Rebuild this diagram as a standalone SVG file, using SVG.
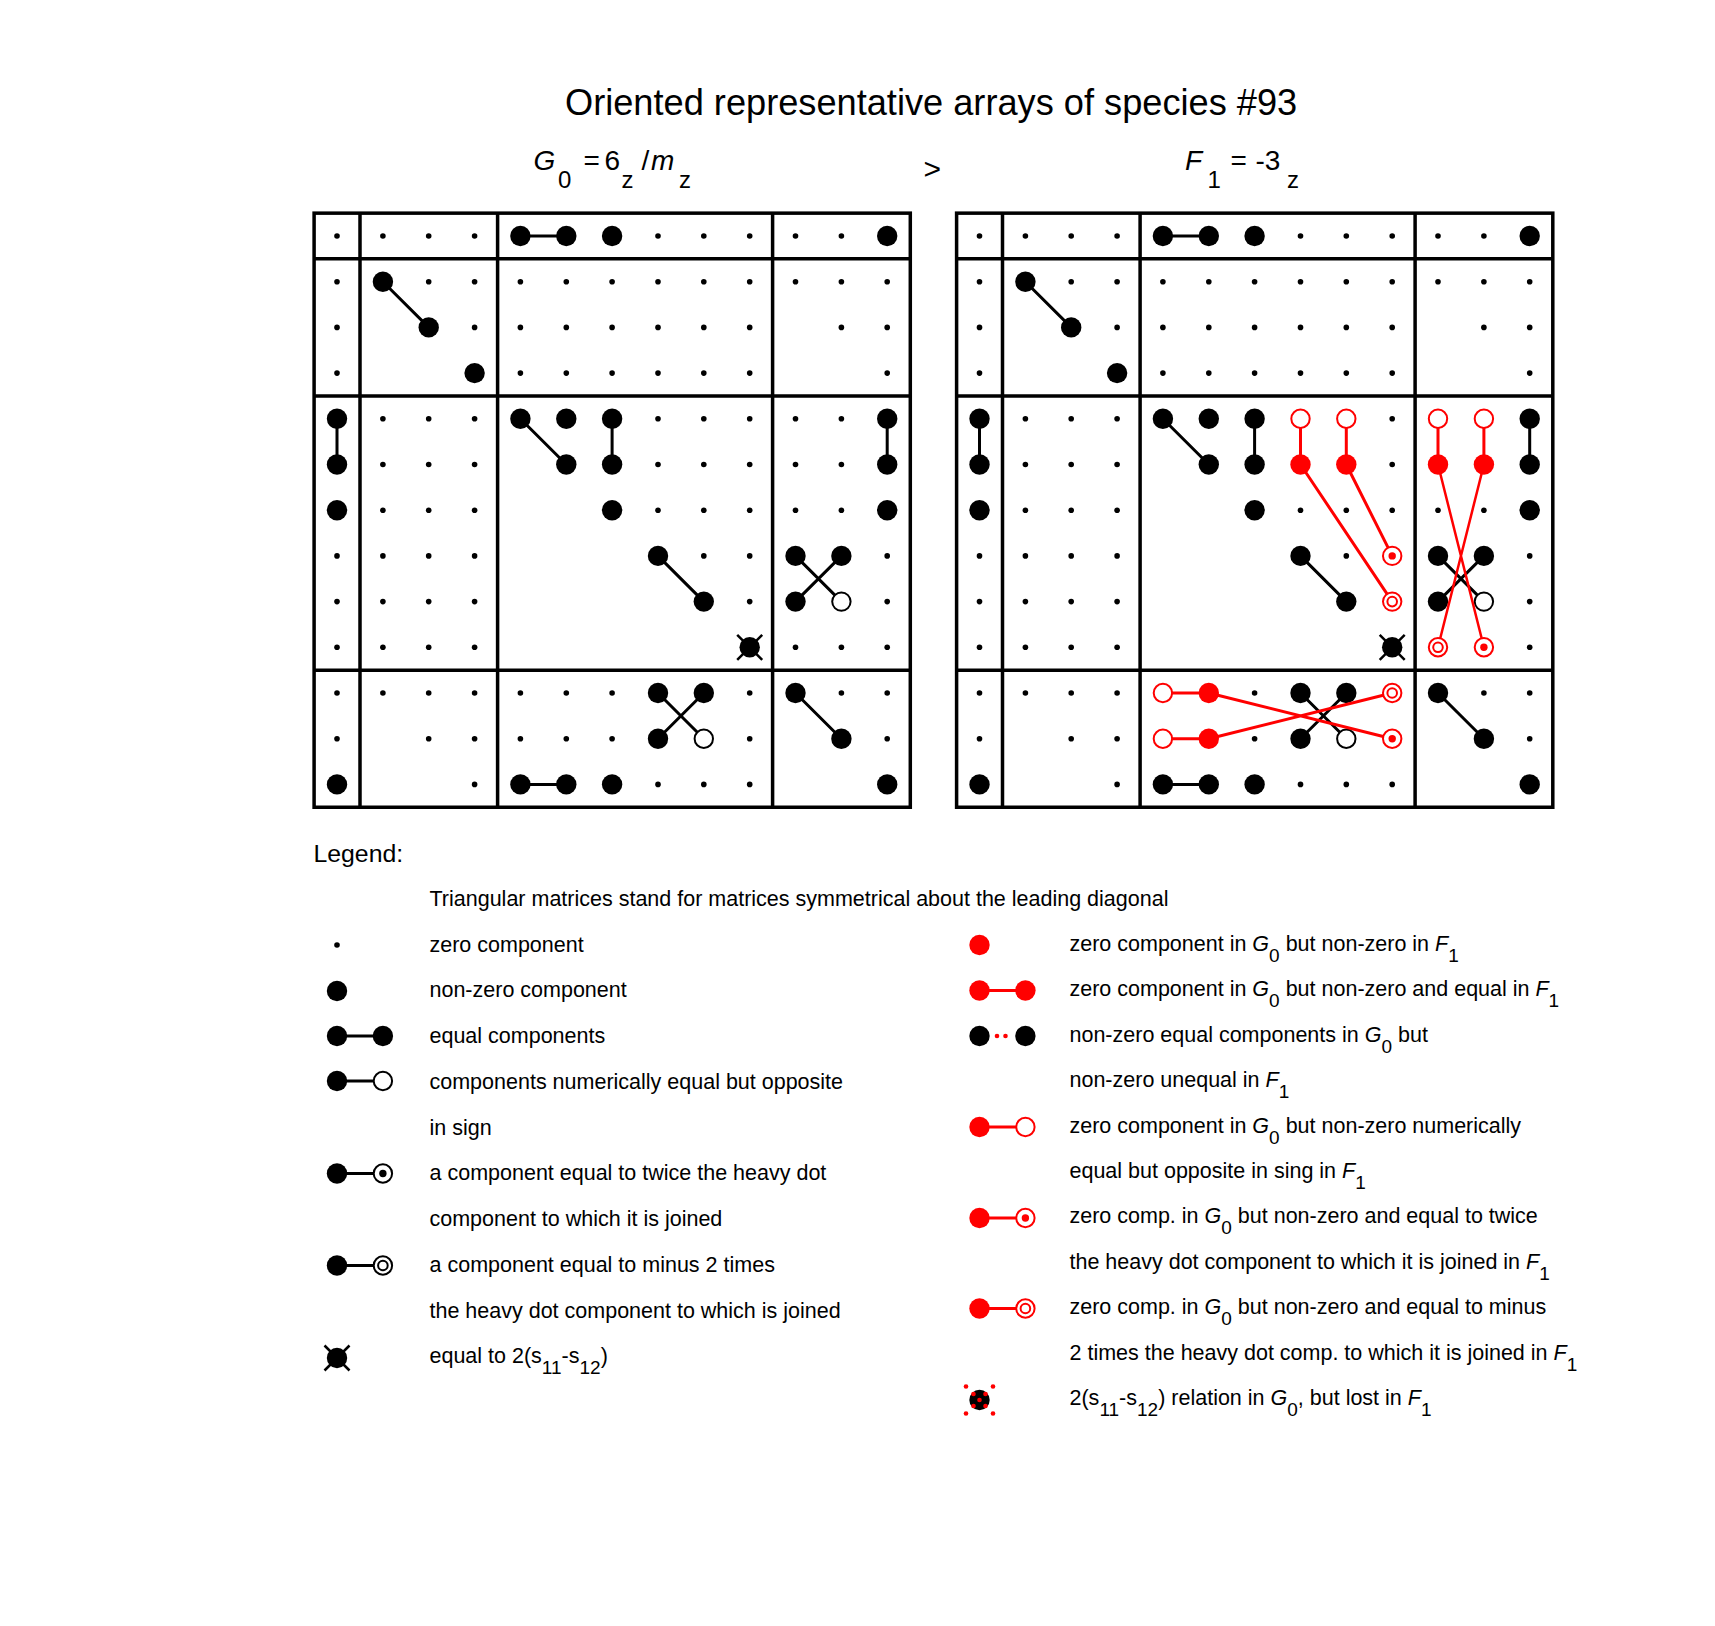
<svg xmlns="http://www.w3.org/2000/svg" xmlns:xlink="http://www.w3.org/1999/xlink" width="1715" height="1626" viewBox="0 0 1715 1626">
<style>
.grid{fill:none;stroke:#000;stroke-width:3.5}
.ln{fill:none;stroke:#000;stroke-width:3}
.rl{fill:none;stroke:#f00;stroke-width:3}
.t{font-family:"Liberation Sans",Arial,Helvetica,sans-serif;fill:#000}
.lg{font-size:21.5px}
.i{font-style:italic}
.sb{font-size:19px}
.rd{fill:#f00}
</style>
<defs>
<circle id="s" r="2.8"/>
<circle id="b" r="10.2"/>
<circle id="o" r="9.2" fill="#fff" stroke="#000" stroke-width="2"/>
<g id="x"><circle r="10.2"/><path d="M-12.5,-12.5L12.5,12.5M12.5,-12.5L-12.5,12.5" stroke="#000" stroke-width="2.5"/></g>
<g id="tw"><circle r="9.2" fill="#fff" stroke="#000" stroke-width="2"/><circle r="3.7"/></g>
<g id="m2"><circle r="9.2" fill="#fff" stroke="#000" stroke-width="2"/><circle r="4.8" fill="none" stroke="#000" stroke-width="2"/></g>
<circle id="rb" r="10.2" fill="#f00"/>
<circle id="ro" r="9.2" fill="#fff" stroke="#f00" stroke-width="2"/>
<g id="rtw"><circle r="9.2" fill="#fff" stroke="#f00" stroke-width="2"/><circle r="3.7" fill="#f00"/></g>
<g id="rm2"><circle r="9.2" fill="#fff" stroke="#f00" stroke-width="2"/><circle r="4.8" fill="none" stroke="#f00" stroke-width="2"/></g>
<g id="arr">
<g class="grid">
<rect x="314.1" y="213.15" width="596.2" height="594.1"/>
<path d="M360,213.15V807.25M497.6,213.15V807.25M772.6,213.15V807.25M314.1,258.85H910.3M314.1,395.95H910.3M314.1,670.15H910.3"/>
</g>
<g class="ln">
<path d="M520.4,236H566.3M382.9,281.7L428.7,327.4M337,418.8V464.5M520.4,418.8L566.3,464.5M612.1,418.8V464.5M887.2,418.8V464.5M658,555.9L703.8,601.6M795.5,555.9L841.4,601.6M841.4,555.9L795.5,601.6M658,693L703.8,738.7M703.8,693L658,738.7M795.5,693L841.4,738.7M520.4,784.4H566.3"/>
</g>
<g>
<use href="#s" x="337" y="236"/><use href="#s" x="382.9" y="236"/><use href="#s" x="428.7" y="236"/><use href="#s" x="474.6" y="236"/><use href="#s" x="658" y="236"/><use href="#s" x="703.8" y="236"/><use href="#s" x="749.7" y="236"/><use href="#s" x="795.5" y="236"/><use href="#s" x="841.4" y="236"/>
<use href="#s" x="337" y="281.7"/><use href="#s" x="428.7" y="281.7"/><use href="#s" x="474.6" y="281.7"/><use href="#s" x="520.4" y="281.7"/><use href="#s" x="566.3" y="281.7"/><use href="#s" x="612.1" y="281.7"/><use href="#s" x="658" y="281.7"/><use href="#s" x="703.8" y="281.7"/><use href="#s" x="749.7" y="281.7"/><use href="#s" x="795.5" y="281.7"/><use href="#s" x="841.4" y="281.7"/><use href="#s" x="887.2" y="281.7"/>
<use href="#s" x="337" y="327.4"/><use href="#s" x="474.6" y="327.4"/><use href="#s" x="520.4" y="327.4"/><use href="#s" x="566.3" y="327.4"/><use href="#s" x="612.1" y="327.4"/><use href="#s" x="658" y="327.4"/><use href="#s" x="703.8" y="327.4"/><use href="#s" x="749.7" y="327.4"/><use href="#s" x="841.4" y="327.4"/><use href="#s" x="887.2" y="327.4"/>
<use href="#s" x="337" y="373.1"/><use href="#s" x="520.4" y="373.1"/><use href="#s" x="566.3" y="373.1"/><use href="#s" x="612.1" y="373.1"/><use href="#s" x="658" y="373.1"/><use href="#s" x="703.8" y="373.1"/><use href="#s" x="749.7" y="373.1"/><use href="#s" x="887.2" y="373.1"/>
<use href="#s" x="382.9" y="418.8"/><use href="#s" x="428.7" y="418.8"/><use href="#s" x="474.6" y="418.8"/><use href="#s" x="749.7" y="418.8"/>
<use href="#s" x="382.9" y="464.5"/><use href="#s" x="428.7" y="464.5"/><use href="#s" x="474.6" y="464.5"/><use href="#s" x="749.7" y="464.5"/>
<use href="#s" x="382.9" y="510.2"/><use href="#s" x="428.7" y="510.2"/><use href="#s" x="474.6" y="510.2"/><use href="#s" x="658" y="510.2"/><use href="#s" x="703.8" y="510.2"/><use href="#s" x="749.7" y="510.2"/><use href="#s" x="795.5" y="510.2"/><use href="#s" x="841.4" y="510.2"/>
<use href="#s" x="337" y="555.9"/><use href="#s" x="382.9" y="555.9"/><use href="#s" x="428.7" y="555.9"/><use href="#s" x="474.6" y="555.9"/><use href="#s" x="703.8" y="555.9"/><use href="#s" x="887.2" y="555.9"/>
<use href="#s" x="337" y="601.6"/><use href="#s" x="382.9" y="601.6"/><use href="#s" x="428.7" y="601.6"/><use href="#s" x="474.6" y="601.6"/><use href="#s" x="887.2" y="601.6"/>
<use href="#s" x="337" y="647.3"/><use href="#s" x="382.9" y="647.3"/><use href="#s" x="428.7" y="647.3"/><use href="#s" x="474.6" y="647.3"/><use href="#s" x="887.2" y="647.3"/>
<use href="#s" x="337" y="693"/><use href="#s" x="382.9" y="693"/><use href="#s" x="428.7" y="693"/><use href="#s" x="474.6" y="693"/><use href="#s" x="612.1" y="693"/><use href="#s" x="841.4" y="693"/><use href="#s" x="887.2" y="693"/>
<use href="#s" x="337" y="738.7"/><use href="#s" x="428.7" y="738.7"/><use href="#s" x="474.6" y="738.7"/><use href="#s" x="612.1" y="738.7"/><use href="#s" x="887.2" y="738.7"/>
<use href="#s" x="474.6" y="784.4"/><use href="#s" x="658" y="784.4"/><use href="#s" x="703.8" y="784.4"/><use href="#s" x="749.7" y="784.4"/>
</g>
<g>
<use href="#b" x="520.4" y="236"/><use href="#b" x="566.3" y="236"/><use href="#b" x="612.1" y="236"/><use href="#b" x="887.2" y="236"/>
<use href="#b" x="382.9" y="281.7"/><use href="#b" x="428.7" y="327.4"/><use href="#b" x="474.6" y="373.1"/>
<use href="#b" x="337" y="418.8"/><use href="#b" x="520.4" y="418.8"/><use href="#b" x="566.3" y="418.8"/><use href="#b" x="612.1" y="418.8"/><use href="#b" x="887.2" y="418.8"/>
<use href="#b" x="337" y="464.5"/><use href="#b" x="566.3" y="464.5"/><use href="#b" x="612.1" y="464.5"/><use href="#b" x="887.2" y="464.5"/>
<use href="#b" x="337" y="510.2"/><use href="#b" x="612.1" y="510.2"/><use href="#b" x="887.2" y="510.2"/>
<use href="#b" x="658" y="555.9"/><use href="#b" x="795.5" y="555.9"/><use href="#b" x="841.4" y="555.9"/>
<use href="#b" x="703.8" y="601.6"/><use href="#b" x="795.5" y="601.6"/>
<use href="#b" x="658" y="693"/><use href="#b" x="703.8" y="693"/><use href="#b" x="795.5" y="693"/>
<use href="#b" x="658" y="738.7"/><use href="#b" x="841.4" y="738.7"/>
<use href="#b" x="337" y="784.4"/><use href="#b" x="520.4" y="784.4"/><use href="#b" x="566.3" y="784.4"/><use href="#b" x="612.1" y="784.4"/><use href="#b" x="887.2" y="784.4"/>
<use href="#o" x="841.4" y="601.6"/><use href="#o" x="703.8" y="738.7"/>
<use href="#x" x="749.7" y="647.3"/>
</g>
</g>
</defs>

<g id="title">
<text class="t" x="565" y="115" font-size="36.2">Oriented representative arrays of species #93</text>
<text class="t" font-size="28" y="170"><tspan x="533.5" class="i">G</tspan><tspan x="558" y="188" font-size="24">0</tspan><tspan x="583.5" y="170">=</tspan><tspan x="604.5">6</tspan><tspan x="621.5" y="188" font-size="24">z</tspan><tspan x="641.5" y="170">/</tspan><tspan x="651" class="i">m</tspan><tspan x="679" y="188" font-size="24">z</tspan></text>
<text class="t" x="923.5" y="178.5" font-size="30">&gt;</text>
<text class="t" font-size="28" y="170"><tspan x="1185" class="i">F</tspan><tspan x="1207.5" y="188" font-size="24">1</tspan><tspan x="1230.5" y="170">=</tspan><tspan x="1255.5">-3</tspan><tspan x="1287" y="188" font-size="24">z</tspan></text>
</g>

<g id="matrix-G0">
<use href="#arr"/>
<g id="g0-zero-cells">
<use href="#s" x="658" y="418.8"/><use href="#s" x="703.8" y="418.8"/><use href="#s" x="795.5" y="418.8"/><use href="#s" x="841.4" y="418.8"/>
<use href="#s" x="658" y="464.5"/><use href="#s" x="703.8" y="464.5"/><use href="#s" x="795.5" y="464.5"/><use href="#s" x="841.4" y="464.5"/>
<use href="#s" x="749.7" y="555.9"/><use href="#s" x="749.7" y="601.6"/><use href="#s" x="795.5" y="647.3"/><use href="#s" x="841.4" y="647.3"/>
<use href="#s" x="520.4" y="693"/><use href="#s" x="566.3" y="693"/><use href="#s" x="749.7" y="693"/>
<use href="#s" x="520.4" y="738.7"/><use href="#s" x="566.3" y="738.7"/><use href="#s" x="749.7" y="738.7"/>
</g>
</g>

<g id="matrix-F1">
<use href="#arr" x="642.5"/>
<g id="f1-connectors" class="rl">
<path d="M1300.5,418.8V464.5M1346.3,418.8V464.5M1438,418.8V464.5M1483.9,418.8V464.5M1162.9,693H1208.8M1162.9,738.7H1208.8"/>
<path d="M1300.5,464.5L1392.2,601.6M1346.3,464.5L1392.2,555.9M1208.8,693L1392.2,738.7M1208.8,738.7L1392.2,693"/>
<path d="M1438,464.5L1483.9,647.3M1483.9,464.5L1438,647.3" stroke-width="2.5"/>
</g>
<g id="f1-changed-cells">
<use href="#ro" x="1300.5" y="418.8"/><use href="#ro" x="1346.3" y="418.8"/><use href="#ro" x="1438" y="418.8"/><use href="#ro" x="1483.9" y="418.8"/>
<use href="#ro" x="1162.9" y="693"/><use href="#ro" x="1162.9" y="738.7"/>
<use href="#rb" x="1300.5" y="464.5"/><use href="#rb" x="1346.3" y="464.5"/><use href="#rb" x="1438" y="464.5"/><use href="#rb" x="1483.9" y="464.5"/>
<use href="#rb" x="1208.8" y="693"/><use href="#rb" x="1208.8" y="738.7"/>
<use href="#rtw" x="1392.2" y="555.9"/><use href="#rtw" x="1483.9" y="647.3"/><use href="#rtw" x="1392.2" y="738.7"/>
<use href="#rm2" x="1392.2" y="601.6"/><use href="#rm2" x="1438" y="647.3"/><use href="#rm2" x="1392.2" y="693"/>
</g>
</g>

<g id="legend">
<text class="t" x="313.5" y="862" font-size="24.8">Legend:</text>
<text class="t lg" x="429.5" y="906">Triangular matrices stand for matrices symmetrical about the leading diagonal</text>

<g id="lg-zero"><use href="#s" x="337" y="945"/><text class="t lg" x="429.5" y="951.7">zero component</text></g>
<g id="lg-nonzero"><use href="#b" x="337" y="991"/><text class="t lg" x="429.5" y="997.4">non-zero component</text></g>
<g id="lg-equal"><path class="ln" d="M337,1036H382.9"/><use href="#b" x="337" y="1036"/><use href="#b" x="382.9" y="1036"/><text class="t lg" x="429.5" y="1043.2">equal components</text></g>
<g id="lg-opposite"><path class="ln" d="M337,1081H382.9"/><use href="#b" x="337" y="1081"/><use href="#o" x="382.9" y="1081"/><text class="t lg" x="429.5" y="1088.9">components numerically equal but opposite</text><text class="t lg" x="429.5" y="1134.6">in sign</text></g>
<g id="lg-twice"><path class="ln" d="M337,1173.5H382.9"/><use href="#b" x="337" y="1173.5"/><use href="#tw" x="382.9" y="1173.5"/><text class="t lg" x="429.5" y="1180.4">a component equal to twice the heavy dot</text><text class="t lg" x="429.5" y="1226.1">component to which it is joined</text></g>
<g id="lg-minus2"><path class="ln" d="M337,1265.5H382.9"/><use href="#b" x="337" y="1265.5"/><use href="#m2" x="382.9" y="1265.5"/><text class="t lg" x="429.5" y="1271.8">a component equal to minus 2 times</text><text class="t lg" x="429.5" y="1317.5">the heavy dot component to which is joined</text></g>
<g id="lg-cross"><use href="#x" x="337" y="1358"/><text class="t lg" x="429.5" y="1363.3">equal to 2(s<tspan class="sb" dy="11">11</tspan><tspan dy="-11">-s</tspan><tspan class="sb" dy="11">12</tspan><tspan dy="-11">)</tspan></text></g>

<g id="lg-r-zero"><use href="#rb" x="979.5" y="945"/><text class="t lg" x="1069.5" y="951">zero component in <tspan class="i">G</tspan><tspan class="sb" dy="11">0</tspan><tspan dy="-11"> but non-zero in </tspan><tspan class="i">F</tspan><tspan class="sb" dy="11">1</tspan></text></g>
<g id="lg-r-equal"><path class="rl" d="M979.5,990.5H1025.4"/><use href="#rb" x="979.5" y="990.5"/><use href="#rb" x="1025.4" y="990.5"/><text class="t lg" x="1069.5" y="996.4">zero component in <tspan class="i">G</tspan><tspan class="sb" dy="11">0</tspan><tspan dy="-11"> but non-zero and equal in </tspan><tspan class="i">F</tspan><tspan class="sb" dy="11">1</tspan></text></g>
<g id="lg-r-unequal"><use href="#b" x="979.5" y="1036"/><use href="#b" x="1025.4" y="1036"/><circle class="rd" cx="997" cy="1036" r="2.3"/><circle class="rd" cx="1005.5" cy="1036" r="2.3"/><text class="t lg" x="1069.5" y="1041.8">non-zero equal components in <tspan class="i">G</tspan><tspan class="sb" dy="11">0</tspan><tspan dy="-11"> but</tspan></text><text class="t lg" x="1069.5" y="1087.2">non-zero unequal in <tspan class="i">F</tspan><tspan class="sb" dy="11">1</tspan></text></g>
<g id="lg-r-opposite"><path class="rl" d="M979.5,1127H1025.4"/><use href="#rb" x="979.5" y="1127"/><use href="#ro" x="1025.4" y="1127"/><text class="t lg" x="1069.5" y="1132.6">zero component in <tspan class="i">G</tspan><tspan class="sb" dy="11">0</tspan><tspan dy="-11"> but non-zero numerically</tspan></text><text class="t lg" x="1069.5" y="1178">equal but opposite in sing in <tspan class="i">F</tspan><tspan class="sb" dy="11">1</tspan></text></g>
<g id="lg-r-twice"><path class="rl" d="M979.5,1218H1025.4"/><use href="#rb" x="979.5" y="1218"/><use href="#rtw" x="1025.4" y="1218"/><text class="t lg" x="1069.5" y="1223.4">zero comp. in <tspan class="i">G</tspan><tspan class="sb" dy="11">0</tspan><tspan dy="-11"> but non-zero and equal to twice</tspan></text><text class="t lg" x="1069.5" y="1268.8">the heavy dot component to which it is joined in <tspan class="i">F</tspan><tspan class="sb" dy="11">1</tspan></text></g>
<g id="lg-r-minus2"><path class="rl" d="M979.5,1308.5H1025.4"/><use href="#rb" x="979.5" y="1308.5"/><use href="#rm2" x="1025.4" y="1308.5"/><text class="t lg" x="1069.5" y="1314.2">zero comp. in <tspan class="i">G</tspan><tspan class="sb" dy="11">0</tspan><tspan dy="-11"> but non-zero and equal to minus</tspan></text><text class="t lg" x="1069.5" y="1359.6">2 times the heavy dot comp. to which it is joined in <tspan class="i">F</tspan><tspan class="sb" dy="11">1</tspan></text></g>
<g id="lg-r-lost"><circle cx="979.5" cy="1400" r="10.2"/>
<g class="rd"><circle cx="966" cy="1386.5" r="2.3"/><circle cx="993" cy="1386.5" r="2.3"/><circle cx="966" cy="1413.5" r="2.3"/><circle cx="993" cy="1413.5" r="2.3"/><circle cx="973.5" cy="1394" r="2.3"/><circle cx="985.5" cy="1394" r="2.3"/><circle cx="973.5" cy="1406" r="2.3"/><circle cx="985.5" cy="1406" r="2.3"/><circle cx="979.5" cy="1400" r="2.3"/></g>
<text class="t lg" x="1069.5" y="1405">2(s<tspan class="sb" dy="11">11</tspan><tspan dy="-11">-s</tspan><tspan class="sb" dy="11">12</tspan><tspan dy="-11">) relation in </tspan><tspan class="i">G</tspan><tspan class="sb" dy="11">0</tspan><tspan dy="-11">, but lost in </tspan><tspan class="i">F</tspan><tspan class="sb" dy="11">1</tspan></text></g>
</g>
</svg>
